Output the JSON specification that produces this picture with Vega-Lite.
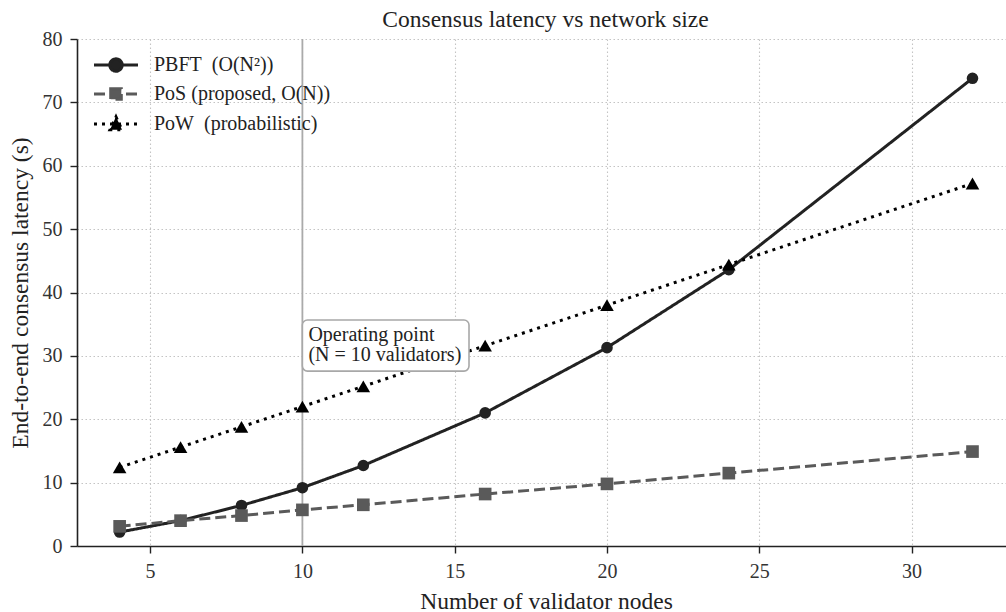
{
  "$schema": "https://vega.github.io/schema/vega-lite/v6.json",
  "width": 929,
  "height": 507,
  "autosize": {"type": "none"},
  "padding": {"left": 77, "top": 39, "right": 0, "bottom": 66},
  "background": "white",
  "title": {"text": "Consensus latency vs network size", "font": "Liberation Serif", "fontSize": 23.5, "fontWeight": "normal", "color": "#222", "offset": -2, "anchor": "middle", "dx": 4},
  "config": {
    "font": "Liberation Serif",
    "view": {"stroke": null},
    "axis": {
      "domainColor": "#222", "domainWidth": 1.6, "tickColor": "#222", "tickWidth": 1.4, "tickSize": 7,
      "labelFont": "Liberation Serif", "labelFontSize": 20, "labelColor": "#333", "labelPadding": 8,
      "titleFont": "Liberation Serif", "titleFontSize": 23.5, "titleFontWeight": "normal", "titleColor": "#222",
      "gridColor": "#c4c4c4", "gridDash": [1.5, 2.5], "gridWidth": 1.1
    }
  },
  "datasets": {
    "main": [
      {"N": 4, "latency": 2.2, "series": "PBFT\u00a0 (O(N²))"},
      {"N": 6, "latency": 4.0, "series": "PBFT\u00a0 (O(N²))"},
      {"N": 8, "latency": 6.4, "series": "PBFT\u00a0 (O(N²))"},
      {"N": 10, "latency": 9.2, "series": "PBFT\u00a0 (O(N²))"},
      {"N": 12, "latency": 12.7, "series": "PBFT\u00a0 (O(N²))"},
      {"N": 16, "latency": 21.0, "series": "PBFT\u00a0 (O(N²))"},
      {"N": 20, "latency": 31.3, "series": "PBFT\u00a0 (O(N²))"},
      {"N": 24, "latency": 43.6, "series": "PBFT\u00a0 (O(N²))"},
      {"N": 32, "latency": 73.8, "series": "PBFT\u00a0 (O(N²))"},
      {"N": 4, "latency": 3.1, "series": "PoS (proposed, O(N))"},
      {"N": 6, "latency": 4.0, "series": "PoS (proposed, O(N))"},
      {"N": 8, "latency": 4.8, "series": "PoS (proposed, O(N))"},
      {"N": 10, "latency": 5.7, "series": "PoS (proposed, O(N))"},
      {"N": 12, "latency": 6.5, "series": "PoS (proposed, O(N))"},
      {"N": 16, "latency": 8.2, "series": "PoS (proposed, O(N))"},
      {"N": 20, "latency": 9.8, "series": "PoS (proposed, O(N))"},
      {"N": 24, "latency": 11.5, "series": "PoS (proposed, O(N))"},
      {"N": 32, "latency": 14.9, "series": "PoS (proposed, O(N))"},
      {"N": 4, "latency": 12.4, "series": "PoW\u00a0 (probabilistic)"},
      {"N": 6, "latency": 15.6, "series": "PoW\u00a0 (probabilistic)"},
      {"N": 8, "latency": 18.8, "series": "PoW\u00a0 (probabilistic)"},
      {"N": 10, "latency": 22.0, "series": "PoW\u00a0 (probabilistic)"},
      {"N": 12, "latency": 25.2, "series": "PoW\u00a0 (probabilistic)"},
      {"N": 16, "latency": 31.6, "series": "PoW\u00a0 (probabilistic)"},
      {"N": 20, "latency": 38.0, "series": "PoW\u00a0 (probabilistic)"},
      {"N": 24, "latency": 44.4, "series": "PoW\u00a0 (probabilistic)"},
      {"N": 32, "latency": 57.2, "series": "PoW\u00a0 (probabilistic)"}
    ],
    "note": [
      {"N": 10, "N2": 15.47, "top": 35.66, "bottom": 27.6}
    ]
  },
  "layer": [
    {
      "data": {"name": "note"},
      "mark": {"type": "rule", "color": "#aaaaaa", "strokeWidth": 1.8},
      "encoding": {"x": {"field": "N", "type": "quantitative"}}
    },
    {
      "data": {"name": "main"},
      "mark": {"type": "line", "strokeWidth": 3},
      "encoding": {
        "x": {"field": "N", "type": "quantitative", "scale": {"domain": [2.6, 33.1], "nice": false, "zero": false},
              "axis": {"values": [5, 10, 15, 20, 25, 30], "title": "Number of validator nodes", "titlePadding": 8, "titleX": 469}},
        "y": {"field": "latency", "type": "quantitative", "scale": {"domain": [0, 80], "nice": false},
              "axis": {"values": [0, 10, 20, 30, 40, 50, 60, 70, 80], "title": "End-to-end consensus latency (s)", "titlePadding": 10}},
        "color": {"field": "series", "type": "nominal",
          "scale": {"domain": ["PBFT\u00a0 (O(N²))", "PoS (proposed, O(N))", "PoW\u00a0 (probabilistic)"], "range": ["#222222", "#5a5a5a", "#000000"]},
          "legend": {
            "orient": "none", "legendX": 27.5, "legendY": 14.5, "title": null,
            "labelFont": "Liberation Serif", "labelFontSize": 20, "labelColor": "#222", "labelOffset": 26.5, "labelLimit": 0,
            "symbolSize": 400, "symbolStrokeWidth": 3, "rowPadding": 5,
            "encode": {"symbols": {"update": {
              "shape": {"signal": "indexof(datum.value,'PBFT')==0 ? 'M-2.2,0L2.2,0M0.62,0A0.62,0.62,0,1,1,-0.62,0A0.62,0.62,0,1,1,0.62,0Z' : indexof(datum.value,'PoS')==0 ? 'M-2.2,0L2.2,0M-0.53,-0.53L0.53,-0.53L0.53,0.53L-0.53,0.53Z' : 'M-2.2,0L2.2,0M0,-0.72L0.6,0.58L-0.6,0.58Z'"},
              "strokeDash": {"signal": "indexof(datum.value,'PBFT')==0 ? [1,0] : indexof(datum.value,'PoS')==0 ? [11,5] : [3,5]"},
              "fill": {"scale": "color", "field": "value"},
              "stroke": {"scale": "color", "field": "value"},
              "strokeWidth": {"value": 3},
              "strokeOpacity": {"value": 1},
              "size": {"value": 400},
              "opacity": {"value": 1},
              "fillOpacity": {"value": 1}
            }}}
          }},
        "strokeDash": {"field": "series", "type": "nominal",
          "scale": {"domain": ["PBFT\u00a0 (O(N²))", "PoS (proposed, O(N))", "PoW\u00a0 (probabilistic)"], "range": [[1, 0], [11, 5], [3, 5]]},
          "legend": null}
      }
    },
    {
      "data": {"name": "main"},
      "transform": [{"filter": "indexof(datum.series,'PBFT')==0"}],
      "mark": {"type": "point", "filled": true, "opacity": 1, "shape": "circle", "size": 135, "color": "#222222"},
      "encoding": {"x": {"field": "N", "type": "quantitative"}, "y": {"field": "latency", "type": "quantitative"}}
    },
    {
      "data": {"name": "main"},
      "transform": [{"filter": "indexof(datum.series,'PoS')==0"}],
      "mark": {"type": "point", "filled": true, "opacity": 1, "shape": "square", "size": 160, "color": "#5a5a5a"},
      "encoding": {"x": {"field": "N", "type": "quantitative"}, "y": {"field": "latency", "type": "quantitative"}}
    },
    {
      "data": {"name": "main"},
      "transform": [{"filter": "indexof(datum.series,'PoW')==0"}],
      "mark": {"type": "point", "filled": true, "opacity": 1, "shape": "triangle-up", "size": 185, "color": "#000000"},
      "encoding": {"x": {"field": "N", "type": "quantitative"}, "y": {"field": "latency", "type": "quantitative"}}
    },
    {
      "data": {"name": "note"},
      "mark": {"type": "rect", "fill": "white", "stroke": "#a8a8a8", "strokeWidth": 1.6, "cornerRadius": 5},
      "encoding": {
        "x": {"field": "N", "type": "quantitative"}, "x2": {"field": "N2"},
        "y": {"field": "top", "type": "quantitative"}, "y2": {"field": "bottom"}
      }
    },
    {
      "data": {"name": "note"},
      "mark": {"type": "text", "text": ["Operating point", "(N = 10 validators)"], "align": "left", "baseline": "top", "dx": 6, "dy": 5, "fontSize": 20, "lineHeight": 20, "font": "Liberation Serif", "color": "#222"},
      "encoding": {"x": {"field": "N", "type": "quantitative"}, "y": {"field": "top", "type": "quantitative"}}
    }
  ]
}
